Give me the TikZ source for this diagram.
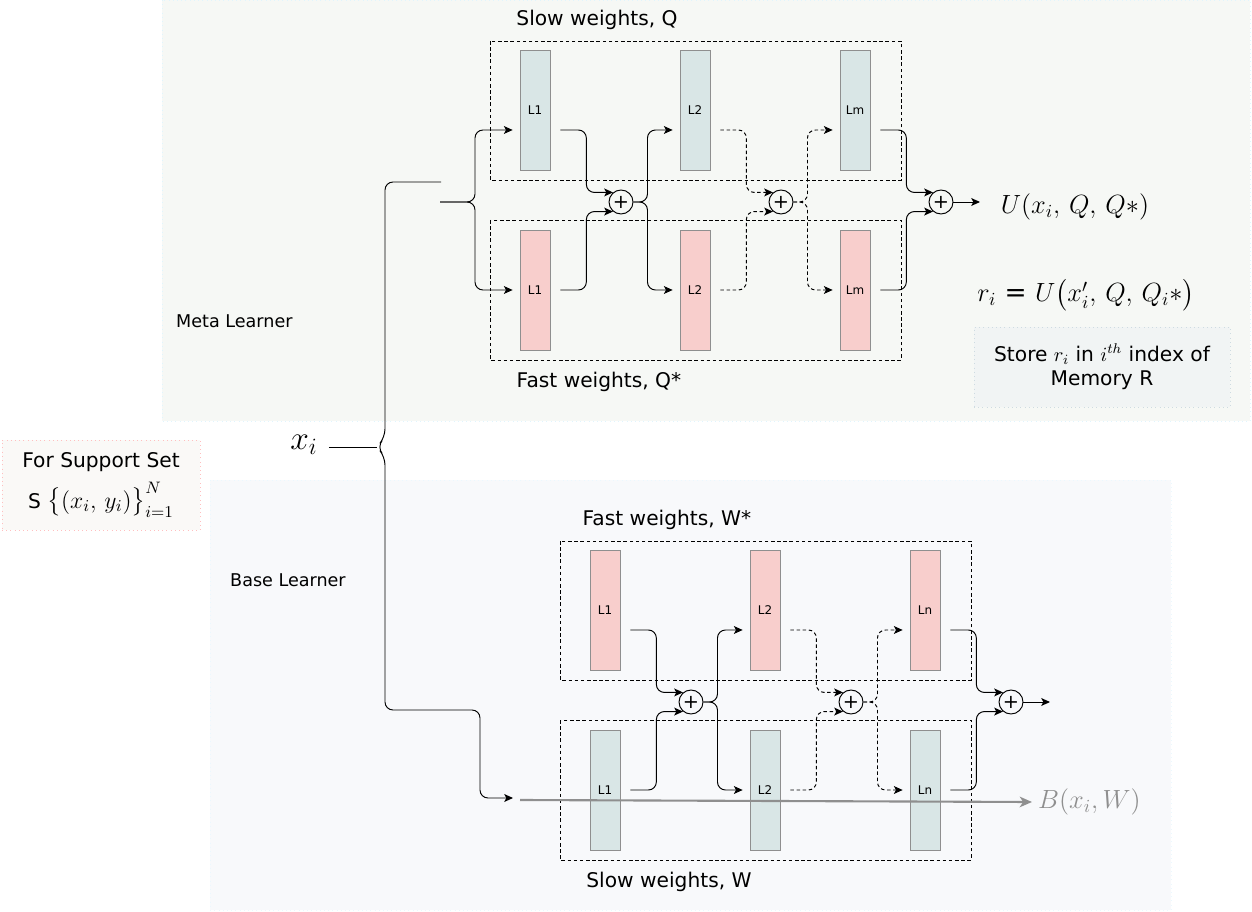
\RequirePackage{fix-cm}
\documentclass[tikz,border=0pt]{standalone}
\usepackage{fontspec}
\setmainfont{DejaVu Sans}
\usepackage{amsmath, amssymb}
\usetikzlibrary{arrows, arrows.meta}
\definecolor{slowc}{HTML}{D9E6E6}
\definecolor{fastc}{HTML}{F8CECC}
\definecolor{metabg}{HTML}{F6F8F5}
\definecolor{basebg}{HTML}{F8F9FB}
\definecolor{supbg}{HTML}{FAF9F7}
\definecolor{storebg}{HTML}{F1F4F4}
\definecolor{edgec}{HTML}{8F8F8F}
\tikzstyle{layer} = [draw=edgec, minimum width=0.6cm, minimum height=2.4cm, inner sep=0pt, font=\fontsize{6.8}{8}\selectfont]
\tikzstyle{add} = [draw, circle, minimum size=0.48cm, inner sep=0pt, line width=0.55pt, font=\fontsize{11}{12}\selectfont]
\tikzstyle{conn} = [-{Stealth[length=5pt, width=4.5pt, inset=1.2pt]}, rounded corners=0.16cm, line width=0.55pt]
\tikzstyle{dconn} = [conn, dash pattern=on 2pt off 1.5pt]
\tikzstyle{wbox} = [draw, dash pattern=on 2pt off 1.5pt, line width=0.5pt]
\tikzstyle{lbl} = [font=\fontsize{11.5}{14}\selectfont]
\tikzstyle{eq} = [font=\fontsize{15}{18}\selectfont]
\tikzstyle{gline} = [-{Stealth[length=7pt, width=6pt, inset=2pt]}, edgec, line width=1.2pt]

\begin{document}
\begin{tikzpicture}[x=0.02cm, y=-0.02cm]
\useasboundingbox (0,0) rectangle (1252,912);
\filldraw[fill=metabg, draw=cyan!12, dotted] (162,0) rectangle (1250,421);
\filldraw[fill=basebg, draw=cyan!8, dotted] (210,480) rectangle (1171,910);

\foreach \b/\sx/\sy/\cu/\cd/\m/\ta/\tb in {Q/0/0/slowc/fastc/m/{Slow weights, Q}/{Fast weights, Q*}, W/70/500/fastc/slowc/n/{Fast weights, W*}/{Slow weights, W}} {
\begin{scope}[shift={(\sx,\sy)}]
\draw[wbox] (490,41) rectangle (901,180);
\draw[wbox] (490,220) rectangle (901,360);
\node[lbl] (ta\b) at (597,20) {\ta};
\node[lbl] (tb\b) at (599,382) {\tb};
\foreach \i/\t in {1/L1, 2/L2, 3/L\m} {
\node[layer, fill=\cu] (u\i\b) at (375+160*\i,110) {\t};
\node[layer, fill=\cd] (d\i\b) at (375+160*\i,290) {\t};
\node[add] (p\i\b) at (461+160*\i,202) {+};
}
\foreach \i/\s in {1/conn, 2/dconn, 3/conn} {
\draw[\s] ([xshift=0.2cm, yshift=-0.4cm]u\i\b.east) -- ++(26,0) |- (p\i\b.130);
\draw[\s] ([xshift=0.2cm]d\i\b.east) -- ++(26,0) |- (p\i\b.230);
}
\foreach \i/\j/\s in {1/2/conn, 2/3/dconn} {
\draw[\s] (p\i\b.east) -- ++(14,0) |- ([xshift=-0.14cm, yshift=-0.4cm]u\j\b.west);
\draw[\s] (p\i\b.east) -- ++(14,0) |- ([xshift=-0.14cm]d\j\b.west);
}
\coordinate (o\b) at (980,202);
\draw[conn] (p3\b) -- (o\b);
\end{scope}
}

\coordinate (inQ) at (440,202);
\draw[conn] (inQ) -- ++(35,0) |- ([xshift=-0.14cm, yshift=-0.4cm]u1Q.west);
\draw[conn] (inQ) -- ++(35,0) |- ([xshift=-0.14cm]d1Q.west);

\node[font=\fontsize{19}{22}\selectfont] (xi) at (304,445) {$x_i$};
\coordinate (tip) at (377,447);
\coordinate (gin) at (513,798);
\draw[line width=0.55pt] ([xshift=0.1cm]xi.east |- tip) -- (tip);
\draw[conn] (441,182) -- (385,182) -- (385,437) -- (tip) -- (385,457) -- (385,710) -- (480,710) -- (480,798) -- (gin);

\coordinate (gs) at (520,800);
\node[eq, edgec, anchor=west] (bout) at (1032,802) {$B(x_i, W)$};
\draw[gline] (gs) -- (bout.west);

\node[eq] (uq) at (1075,207) {$U(x_i,\, Q,\, Q{*})$};
\node[eq] (ri) at (1086,295) {$r_i$ = $U\big(x_i',\, Q,\, Q_i{*}\big)$};
\node[draw=cyan!25!gray!35, dotted, fill=storebg, minimum width=5.12cm, minimum height=1.6cm, align=center, font=\fontsize{11.5}{14}\selectfont] (store) at (1102,367) {Store $r_i$ in $i^{th}$ index of\\Memory R};

\node[anchor=west, font=\fontsize{10}{12}\selectfont] (meta) at (170,321) {Meta Learner};
\node[anchor=west, font=\fontsize{10}{12}\selectfont] (base) at (224,580) {Base Learner};

\node[draw=red!25, dotted, fill=supbg, minimum width=3.96cm, minimum height=1.8cm, align=center, font=\fontsize{11.5}{23}\selectfont] (sup) at (101,485) {For Support Set\\S {\fontsize{13.5}{16}\selectfont$\big\{(x_i,\, y_i)\big\}_{i=1}^{N}$}};
\end{tikzpicture}
\end{document}
